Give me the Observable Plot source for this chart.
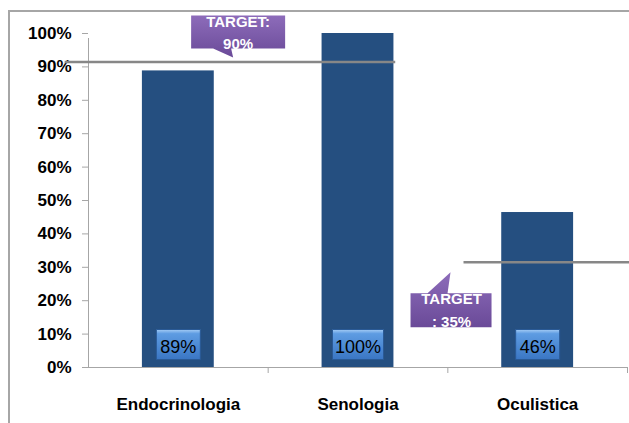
<!DOCTYPE html>
<html><head><meta charset="utf-8">
<script src="https://cdn.jsdelivr.net/npm/d3@7"></script>
<script src="https://cdn.jsdelivr.net/npm/@observablehq/plot@0.6"></script>
<style>
html,body{margin:0;padding:0;background:#fff;overflow:hidden}
#wrap{position:relative;width:629px;height:423px}
#frame{position:absolute;left:8px;top:10px;width:1000px;height:1000px;border-left:2px solid #a6a6a6;border-top:2px solid #a6a6a6;pointer-events:none}
svg text{font-family:"Liberation Sans",Arial,sans-serif}
</style></head><body><div id="wrap"><div id="frame"></div></div>
<script>
// ---- data ----
const categories = ["Endocrinologia", "Senologia", "Oculistica"];
const values = [0.888, 1.0, 0.464];
const valueLabels = ["89%", "100%", "46%"];
const yTicks = [0, 0.1, 0.2, 0.3, 0.4, 0.5, 0.6, 0.7, 0.8, 0.9, 1.0];
const targetValues = [0.915, 0.315];
const targetStarts = [-0.63, 1.59];
const targetEnds = [1.21, 2.52];
const targetLabels = ["TARGET:\n90%", "TARGET\n: 35%"];
const calloutAnchorX = [0.305, 1.515];

// ---- tables ----
const bars = categories.map((c, i) => ({i, category: c, value: values[i], label: valueLabels[i]}));
const targets = targetValues.map((v, i) => ({value: v, x1: targetStarts[i], x2: targetEnds[i], label: targetLabels[i], ax: calloutAnchorX[i]}));

// ---- shapes ----
const boxSymbol = (w, h) => ({draw(ctx) { ctx.moveTo(-w/2, -h/2); ctx.lineTo(w/2, -h/2); ctx.lineTo(w/2, h/2); ctx.lineTo(-w/2, h/2); ctx.closePath(); }});
bars.forEach(d => d.box = boxSymbol(23 + 7 * d.label.length, 30));
const calloutDown = {draw(ctx) {
  ctx.moveTo(-42, -46.4); ctx.lineTo(52, -46.4); ctx.lineTo(52, -13.4); ctx.lineTo(-2, -13.4);
  ctx.lineTo(0, -4.4); ctx.lineTo(-20, -13.4); ctx.lineTo(-42, -13.4); ctx.closePath(); }};
const calloutUp = {draw(ctx) {
  ctx.moveTo(-40, 31); ctx.lineTo(-23, 31); ctx.lineTo(0, 10); ctx.lineTo(-3, 31);
  ctx.lineTo(41, 31); ctx.lineTo(41, 65); ctx.lineTo(-40, 65); ctx.closePath(); }};

const grey = "#a6a6a6";
const svg = Plot.plot({
  width: 629, height: 423,
  marginLeft: 88, marginRight: 2, marginTop: 33, marginBottom: 56,
  style: {fontFamily: '"Liberation Sans", Arial, sans-serif', background: "transparent"},
  x: {domain: [-0.5, 2.5], axis: null},
  y: {domain: [0, 1], axis: null},
  marks: [
    Plot.axisY({ticks: yTicks, tickFormat: d3.format(".0%"), tickSize: 6, tickPadding: 11,
      fontSize: 17, fontWeight: "bold", stroke: grey, fill: "black", label: null}),
    Plot.axisX({ticks: [0.5, 1.5, 2.5], tickFormat: () => "", tickSize: 6, stroke: grey, label: null}),
    Plot.ruleX([-0.5], {y1: 0, y2: 1, stroke: grey, insetBottom: -5}),
    Plot.ruleY([0], {x1: -0.5, x2: 2.5, stroke: grey, insetLeft: -6}),
    Plot.rect(bars, {x1: d => d.i - 0.2, x2: d => d.i + 0.2, y1: 0, y2: "value", fill: "#254f80"}),
    Plot.dot(bars, {x: "i", frameAnchor: "bottom", dy: -23, symbol: "box", fill: "url(#gBlue)", stroke: "#2a5a96", strokeWidth: 1, ariaLabel: "valuebox"}),
    Plot.text(bars, {x: "i", frameAnchor: "bottom", dy: -20, text: "label", fontSize: 18, fill: "black", lineAnchor: "middle"}),
    Plot.text(bars, {x: "i", frameAnchor: "bottom", dy: 37, text: "category", fontSize: 17, fontWeight: "bold", fill: "black", lineAnchor: "middle"}),
    Plot.ruleY(targets, {y: "value", x1: "x1", x2: "x2", stroke: "#878787", strokeWidth: 2.5}),
    Plot.dot(targets.slice(0, 1), {x: "ax", y: "value", symbol: calloutDown, fill: "url(#gPurple)", stroke: "none", ariaLabel: "callout"}),
    Plot.dot(targets.slice(1), {x: "ax", y: "value", symbol: calloutUp, fill: "url(#gPurple)", stroke: "none", ariaLabel: "callout"}),
    Plot.text(targets.slice(0, 1), {x: "ax", y: "value", text: "label", dx: 5, dy: -31, fontSize: 15, fontWeight: "bold", fill: "white", lineHeight: 1.47, lineAnchor: "middle"}),
    Plot.text(targets.slice(1), {x: "ax", y: "value", text: "label", dx: 1, dy: 46, fontSize: 15, fontWeight: "bold", fill: "white", lineHeight: 1.5, lineAnchor: "middle"})
  ]
});

const defs = d3.select(svg).insert("defs", ":first-child");
const gb = defs.append("linearGradient").attr("id", "gBlue").attr("x1", 0).attr("y1", 0).attr("x2", 0).attr("y2", 1);
gb.append("stop").attr("offset", 0).attr("stop-color", "#a4ccf5");
gb.append("stop").attr("offset", 0.14).attr("stop-color", "#5e9ce2");
gb.append("stop").attr("offset", 1).attr("stop-color", "#3a76c4");
const gp = defs.append("linearGradient").attr("id", "gPurple").attr("x1", 0).attr("y1", 0).attr("x2", 0).attr("y2", 1);
gp.append("stop").attr("offset", 0).attr("stop-color", "#8d6cba");
gp.append("stop").attr("offset", 1).attr("stop-color", "#6a4a98");
const sh = defs.append("filter").attr("id", "shadow").attr("x", "-20%").attr("y", "-20%").attr("width", "150%").attr("height", "150%");
sh.append("feDropShadow").attr("dx", 2).attr("dy", 2).attr("stdDeviation", 1.5).attr("flood-color", "#000").attr("flood-opacity", 0.35);
d3.select(svg).selectAll('g[aria-label="callout"], g[aria-label="valuebox"]').attr("filter", "url(#shadow)");

document.getElementById("wrap").prepend(svg);
</script></body></html>
